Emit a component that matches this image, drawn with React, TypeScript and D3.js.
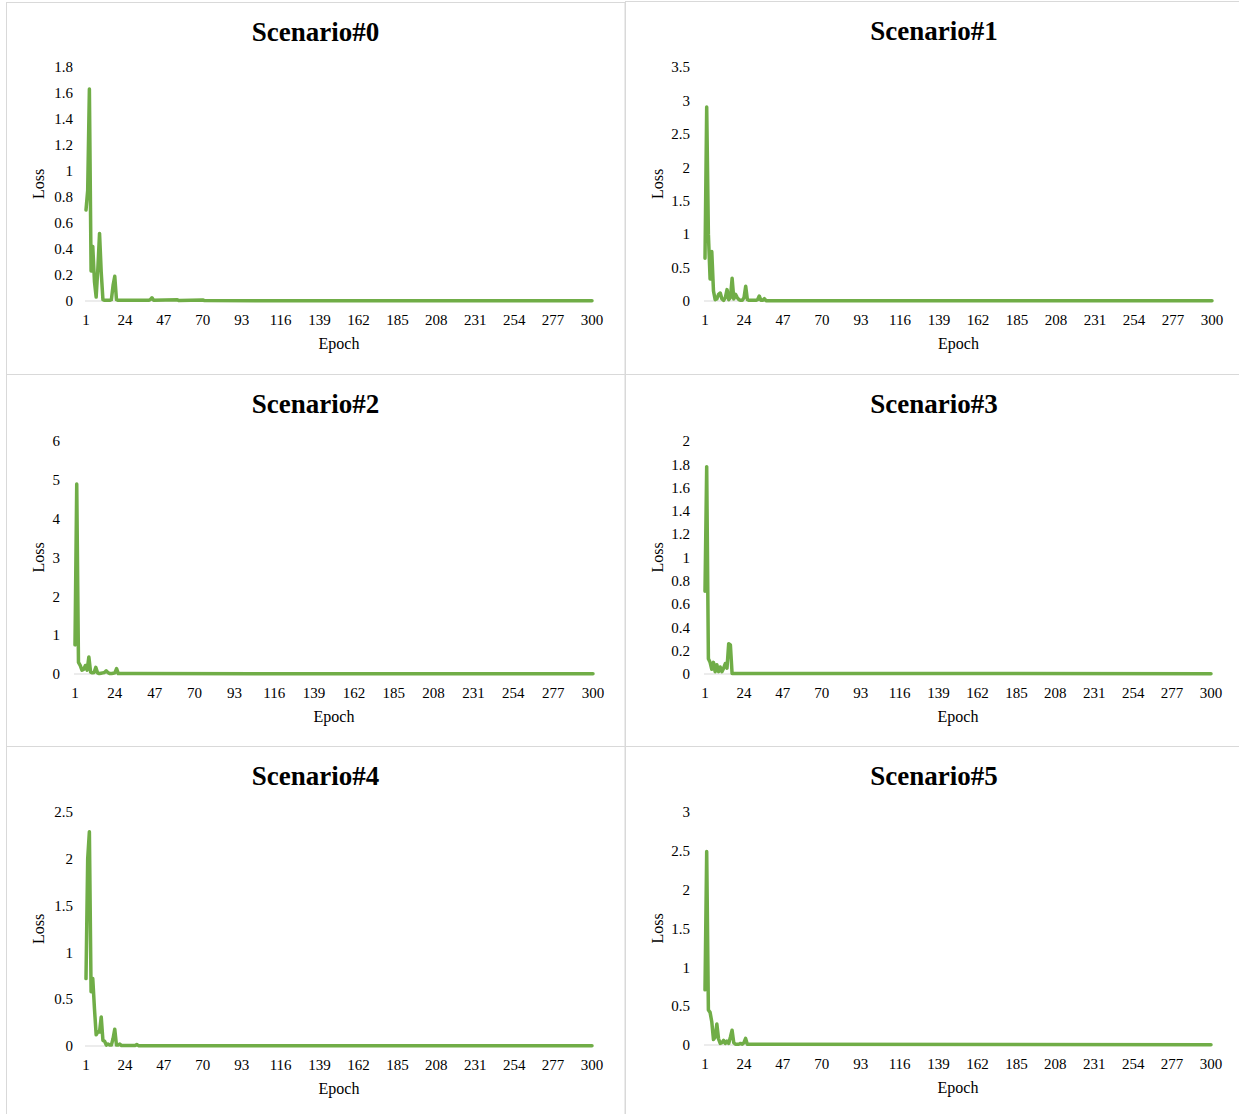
import React from "react";
import * as d3 from "d3";

// ---- Data: [epoch, loss] pairs (tail is flat near zero) ----
const scenario0: [number, number][] = [
  [1, 0.7], [2, 0.85], [3, 1.63], [4, 0.23], [5, 0.42], [6, 0.15], [7, 0.03], [8, 0.25], [9, 0.52],
  [10, 0.22], [11, 0.01], [12, 0.005], [13, 0.005], [14, 0.005], [15, 0.005], [16, 0.01], [17, 0.12],
  [18, 0.19], [19, 0.01], [20, 0.005], [38, 0.005], [39, 0.01], [40, 0.025], [41, 0.005],
  [55, 0.009], [56, 0.003], [70, 0.008], [71, 0.003], [300, 0.002],
];
const scenario1: [number, number][] = [
  [1, 0.64], [2, 2.9], [3, 1.0], [4, 0.33], [5, 0.74], [6, 0.15], [7, 0.02], [8, 0.03], [9, 0.1],
  [10, 0.12], [11, 0.03], [12, 0.01], [13, 0.05], [14, 0.17], [15, 0.02], [16, 0.05], [17, 0.34],
  [18, 0.03], [19, 0.1], [20, 0.05], [21, 0.02], [22, 0.01], [23, 0.01], [24, 0.05], [25, 0.22],
  [26, 0.02], [27, 0.01], [28, 0.01], [29, 0.01], [30, 0.01], [31, 0.01], [32, 0.02], [33, 0.075],
  [34, 0.01], [35, 0.01], [36, 0.035], [37, 0.005], [300, 0.002],
];
const scenario2: [number, number][] = [
  [1, 0.75], [2, 4.89], [3, 0.3], [4, 0.22], [5, 0.1], [6, 0.12], [7, 0.22], [8, 0.1], [9, 0.44],
  [10, 0.05], [11, 0.03], [12, 0.04], [13, 0.17], [14, 0.03], [15, 0.01], [16, 0.02], [17, 0.03],
  [18, 0.04], [19, 0.08], [20, 0.04], [21, 0.01], [22, 0.01], [23, 0.02], [24, 0.03], [25, 0.14],
  [26, 0.01], [35, 0.01], [300, 0.005],
];
const scenario3: [number, number][] = [
  [1, 0.71], [2, 1.78], [3, 0.13], [4, 0.1], [5, 0.04], [6, 0.1], [7, 0.02], [8, 0.08], [9, 0.02],
  [10, 0.06], [11, 0.02], [12, 0.05], [13, 0.09], [14, 0.05], [15, 0.26], [16, 0.25], [17, 0.005],
  [300, 0.003],
];
const scenario4: [number, number][] = [
  [1, 0.72], [2, 2.0], [3, 2.29], [4, 0.58], [5, 0.72], [6, 0.4], [7, 0.12], [8, 0.15], [9, 0.15],
  [10, 0.31], [11, 0.06], [12, 0.05], [13, 0.01], [14, 0.02], [15, 0.01], [16, 0.01], [17, 0.08],
  [18, 0.18], [19, 0.01], [20, 0.01], [21, 0.02], [22, 0.005], [30, 0.005], [31, 0.015], [32, 0.004],
  [300, 0.003],
];
const scenario5: [number, number][] = [
  [1, 0.71], [2, 2.49], [3, 0.45], [4, 0.42], [5, 0.3], [6, 0.07], [7, 0.1], [8, 0.27], [9, 0.08],
  [10, 0.02], [11, 0.03], [12, 0.06], [13, 0.02], [14, 0.05], [15, 0.02], [16, 0.1], [17, 0.19],
  [18, 0.03], [19, 0.01], [20, 0.01], [21, 0.01], [22, 0.02], [23, 0.01], [24, 0.03], [25, 0.085],
  [26, 0.01], [300, 0.004],
];

const titles = ["Scenario#0", "Scenario#1", "Scenario#2", "Scenario#3", "Scenario#4", "Scenario#5"];
const yMaxes = [1.8, 3.5, 6, 2, 2.5, 3];
const yStepsList = [0.2, 0.5, 1, 0.2, 0.5, 0.5];
const xTickLabels = [1, 24, 47, 70, 93, 116, 139, 162, 185, 208, 231, 254, 277, 300];
const series = [scenario0, scenario1, scenario2, scenario3, scenario4, scenario5];

// ---- Layout (pixels) ----
const layouts = [
  { px: 6.5, py: 2.5, pw: 618.5, ph: 372, x0: 86, x1: 592, yZero: 301, yTop: 67, labX: 73, lossX: 39 },
  { px: 625.5, py: 1.5, pw: 620, ph: 373, x0: 705, x1: 1212, yZero: 301, yTop: 67, labX: 690, lossX: 658 },
  { px: 6.5, py: 374.5, pw: 618.5, ph: 372, x0: 75, x1: 593, yZero: 674, yTop: 441, labX: 60, lossX: 39 },
  { px: 625.5, py: 374.5, pw: 620, ph: 372, x0: 705, x1: 1211, yZero: 674, yTop: 441, labX: 690, lossX: 658 },
  { px: 6.5, py: 746.5, pw: 618.5, ph: 372, x0: 86, x1: 592, yZero: 1046, yTop: 812, labX: 73, lossX: 39 },
  { px: 625.5, py: 746.5, pw: 620, ph: 372, x0: 705, x1: 1211, yZero: 1045, yTop: 812, labX: 690, lossX: 658 },
];

const FONT = "'Liberation Serif', 'Times New Roman', serif";
const GREEN = "#70ad47";

function fmt(v: number) {
  const r = Math.round(v * 100) / 100;
  return String(r);
}

function Panel({ i }: { i: number }) {
  const L = layouts[i];
  const data = series[i];
  const yMax = yMaxes[i];
  const step = yStepsList[i];
  const x = d3.scaleLinear().domain([1, 300]).range([L.x0, L.x1]);
  const y = d3.scaleLinear().domain([0, yMax]).range([L.yZero, L.yTop]);
  const yTicks = d3.range(0, yMax + step / 2, step);
  const line = d3
    .line<[number, number]>()
    .x((d) => x(d[0]))
    .y((d) => y(d[1]));
  const titleCx = i % 2 === 0 ? 315.5 : 934;
  const midY = (L.yZero + L.yTop) / 2;
  return (
    <g>
      <rect x={L.px} y={L.py} width={L.pw} height={L.ph} fill="#fff" stroke="#d9d9d9" strokeWidth={1} />
      <text
        x={titleCx}
        y={L.py + 38}
        textAnchor="middle"
        fontFamily={FONT}
        fontWeight="bold"
        fontSize={27}
        fill="#000"
      >
        {titles[i]}
      </text>
      {yTicks.map((t) => (
        <text
          key={t}
          x={L.labX}
          y={y(t)}
          dy="0.35em"
          textAnchor="end"
          fontFamily={FONT}
          fontSize={15}
          fill="#000"
        >
          {fmt(t)}
        </text>
      ))}
      <line x1={x(1) - 1} x2={x(300) + 1} y1={y(0)} y2={y(0)} stroke="#d9d9d9" strokeWidth={1} />
      {xTickLabels.map((t) => (
        <text
          key={t}
          x={x(t)}
          y={L.yZero + 24}
          textAnchor="middle"
          fontFamily={FONT}
          fontSize={15}
          fill="#000"
        >
          {t}
        </text>
      ))}
      <text
        x={(L.x0 + L.x1) / 2}
        y={L.yZero + 48}
        textAnchor="middle"
        fontFamily={FONT}
        fontSize={16}
        fill="#000"
      >
        Epoch
      </text>
      <text
        transform={`translate(${L.lossX + 5},${midY}) rotate(-90)`}
        textAnchor="middle"
        fontFamily={FONT}
        fontSize={16}
        fill="#000"
      >
        Loss
      </text>
      <path
        d={line(data) || ""}
        fill="none"
        stroke={GREEN}
        strokeWidth={3.5}
        strokeLinejoin="round"
        strokeLinecap="round"
      />
    </g>
  );
}

export default function App() {
  return (
    <svg
      width={1239}
      height={1114}
      style={{ position: "absolute", left: 0, top: 0, display: "block", background: "#fff" }}
    >
      <rect x={0} y={0} width={1239} height={1114} fill="#fff" />
      {layouts.map((_, i) => (
        <Panel key={i} i={i} />
      ))}
    </svg>
  );
}
